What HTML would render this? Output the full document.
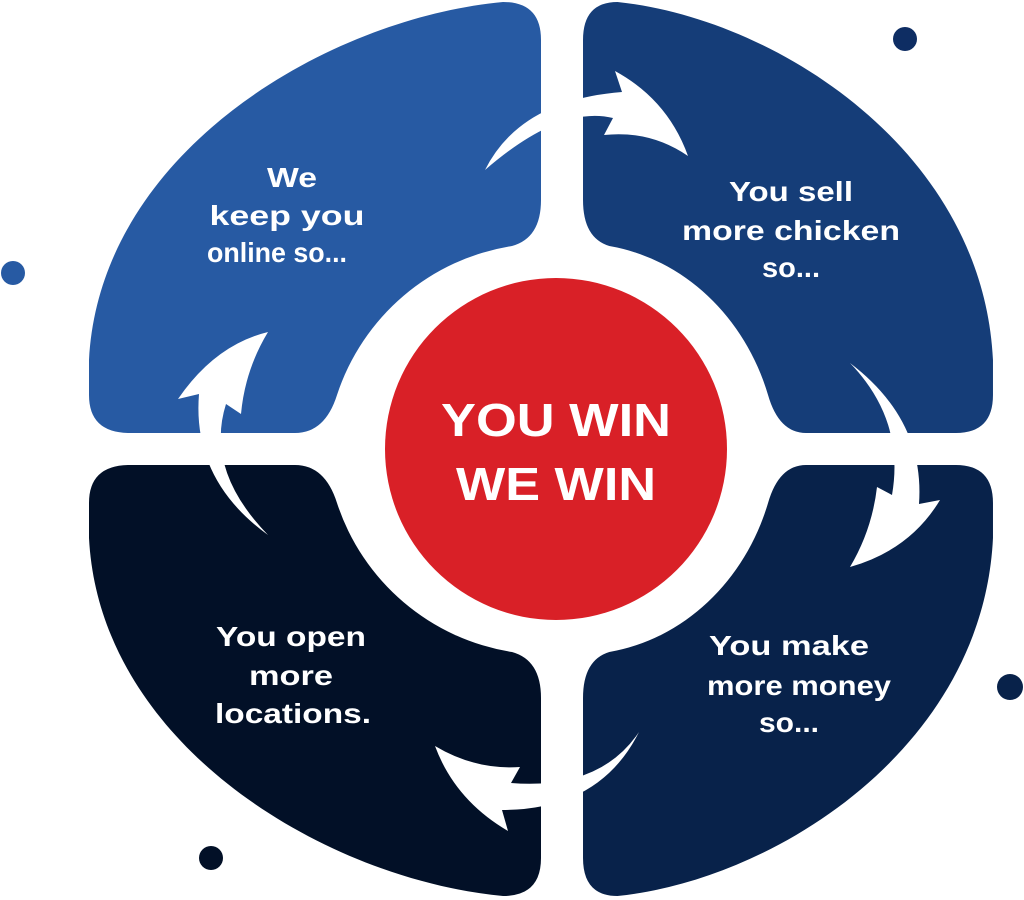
<!DOCTYPE html>
<html><head><meta charset="utf-8"><style>
html,body{margin:0;padding:0;background:#fff;}
svg{display:block;}
text{font-family:"Liberation Sans",sans-serif;font-weight:bold;fill:#fff;text-anchor:middle;}
</style></head><body>
<svg width="1024" height="900" viewBox="0 0 1024 900" xmlns="http://www.w3.org/2000/svg">
<defs>
<path id="q" d="M541,40 Q541,2 503,2 C330,18 100,150 89,360 L89,395 Q89,433 130,433 L295,433 Q325,433 337,395 A220,220 0 0 1 512,246 Q541,238 541,200 Z"/>
</defs>
<use href="#q" fill="#275AA3"/>
<use href="#q" fill="#153D78" transform="matrix(-0.907,0,0,1,1073.7,0)"/>
<use href="#q" fill="#021027" transform="matrix(1,0,0,-1,0,898)"/>
<use href="#q" fill="#08224A" transform="matrix(-0.907,0,0,-1,1073.7,898)"/>
<circle cx="556" cy="449" r="171" fill="#D92027"/>
<circle cx="905" cy="39" r="12" fill="#0E2D63"/>
<circle cx="13" cy="273" r="12" fill="#275AA3"/>
<circle cx="1010" cy="687" r="13" fill="#08224A"/>
<circle cx="211" cy="858" r="12" fill="#021027"/>
<g fill="#fff">
<path d="M485,170 Q520,100 622,92 L615,71 Q668,100 688,156 Q650,130 604,135 L613,118 Q560,105 485,170 Z"/>
<path d="M268,535 Q192,480 199,394 L178,399 Q215,345 268,332 Q245,370 241,414 L226,404 Q205,470 268,535 Z"/>
<path d="M850,363 Q925,420 919,504 L940,500 Q910,550 850,567 Q872,530 877,487 L892,495 Q905,420 850,363 Z"/>
<path d="M639,732 Q600,810 502,810 L508,831 Q455,800 435,746 Q475,770 520,767 L511,783 Q600,790 639,732 Z"/>
</g>
<g font-size="28">
<text x="292" y="187" textLength="50" lengthAdjust="spacingAndGlyphs">We</text>
<text x="287" y="225" textLength="155" lengthAdjust="spacingAndGlyphs">keep you</text>
<text x="277" y="262" textLength="140" lengthAdjust="spacingAndGlyphs">online so...</text>
<text x="791" y="201" textLength="124" lengthAdjust="spacingAndGlyphs">You sell</text>
<text x="791" y="240" textLength="218" lengthAdjust="spacingAndGlyphs">more chicken</text>
<text x="791" y="277" textLength="58" lengthAdjust="spacingAndGlyphs">so...</text>
<text x="789" y="655" textLength="160" lengthAdjust="spacingAndGlyphs">You make</text>
<text x="799" y="695" textLength="184" lengthAdjust="spacingAndGlyphs">more money</text>
<text x="789" y="732" textLength="60" lengthAdjust="spacingAndGlyphs">so...</text>
<text x="291" y="646" textLength="150" lengthAdjust="spacingAndGlyphs">You open</text>
<text x="291" y="685" textLength="84" lengthAdjust="spacingAndGlyphs">more</text>
<text x="293" y="723" textLength="156" lengthAdjust="spacingAndGlyphs">locations.</text>
</g>
<g font-size="46">
<text x="556" y="436" textLength="230" lengthAdjust="spacingAndGlyphs">YOU WIN</text>
<text x="556" y="500" textLength="200" lengthAdjust="spacingAndGlyphs">WE WIN</text>
</g>
</svg>
</body></html>
